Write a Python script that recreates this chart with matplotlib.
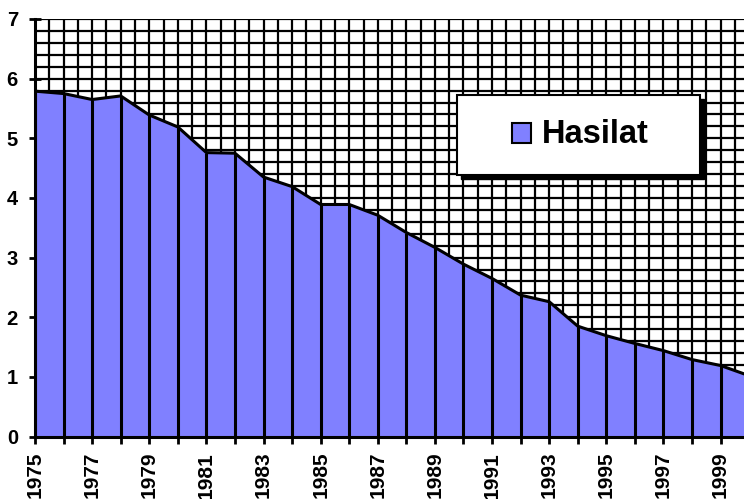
import matplotlib
matplotlib.use("Agg")
import matplotlib.pyplot as plt
from matplotlib.patches import Rectangle
from matplotlib.ticker import MultipleLocator, FuncFormatter

years = list(range(1975, 2001))
hasilat = [5.79, 5.75, 5.65, 5.71, 5.39, 5.19, 4.76, 4.75, 4.35, 4.19,
           3.89, 3.89, 3.71, 3.42, 3.17, 2.89, 2.65, 2.37, 2.26, 1.85,
           1.69, 1.56, 1.44, 1.29, 1.19, 1.02]
series_name = "Hasilat"
fill_color = "#8080FF"

plt.rcParams["font.family"] = ["Liberation Sans", "DejaVu Sans"]
plt.rcParams["font.weight"] = "bold"

W, H = 744, 499
fig = plt.figure(figsize=(W / 100, H / 100), dpi=100)
ax = fig.add_axes([35 / W, 1 - 436.5 / H, 1 - 35 / W, (436.5 - 19) / H])

# background checker grid (drawn first, under the area)
ax.set_axisbelow(True)
ax.xaxis.set_minor_locator(MultipleLocator(0.5))
ax.yaxis.set_minor_locator(MultipleLocator(0.2))
ax.grid(which="both", color="black", linewidth=1.6)

ax.fill_between(years, hasilat, 0, color=fill_color, zorder=2)
ax.vlines(years, 0, hasilat, color="black", linewidth=2.2, zorder=3)
ax.plot(years, hasilat, color="black", linewidth=2.2, zorder=4)

ax.set_xlim(1975, 1999.82)
ax.set_ylim(0, 7)

ax.xaxis.set_major_locator(MultipleLocator(1))
ax.xaxis.set_major_formatter(
    FuncFormatter(lambda v, p: str(int(round(v))) if int(round(v)) % 2 == 1 else ""))
ax.yaxis.set_major_locator(MultipleLocator(1))

ax.tick_params(axis="x", which="major", direction="out", length=5, width=2,
               pad=6, labelsize=15, labelrotation=90)
ax.tick_params(axis="y", which="major", direction="inout", length=8.6, width=2,
               pad=8.0, labelsize=14.5)
ax.tick_params(which="minor", length=0)

for s in ["top", "right"]:
    ax.spines[s].set_visible(False)
for s in ["left", "bottom"]:
    ax.spines[s].set_linewidth(2.2)
    ax.spines[s].set_zorder(5)

# legend box with solid shadow
def px(x, y):
    return (x / W, 1 - y / H)

fig.add_artist(Rectangle(px(461, 179), 243 / W, 80 / H, transform=fig.transFigure,
                         facecolor="black", edgecolor="black", zorder=6))
fig.add_artist(Rectangle(px(457, 175), 243 / W, 80 / H, transform=fig.transFigure,
                         facecolor="white", edgecolor="black", linewidth=1.5, zorder=7))
fig.add_artist(Rectangle(px(512, 143), 19 / W, 20 / H, transform=fig.transFigure,
                         facecolor=fill_color, edgecolor="black", linewidth=1.5, zorder=8))
fig.text(542 / W, 1 - 135 / H, series_name, fontsize=23.5, fontweight="bold",
         va="center", ha="left", zorder=9)

fig.savefig("out.png", dpi=100)
